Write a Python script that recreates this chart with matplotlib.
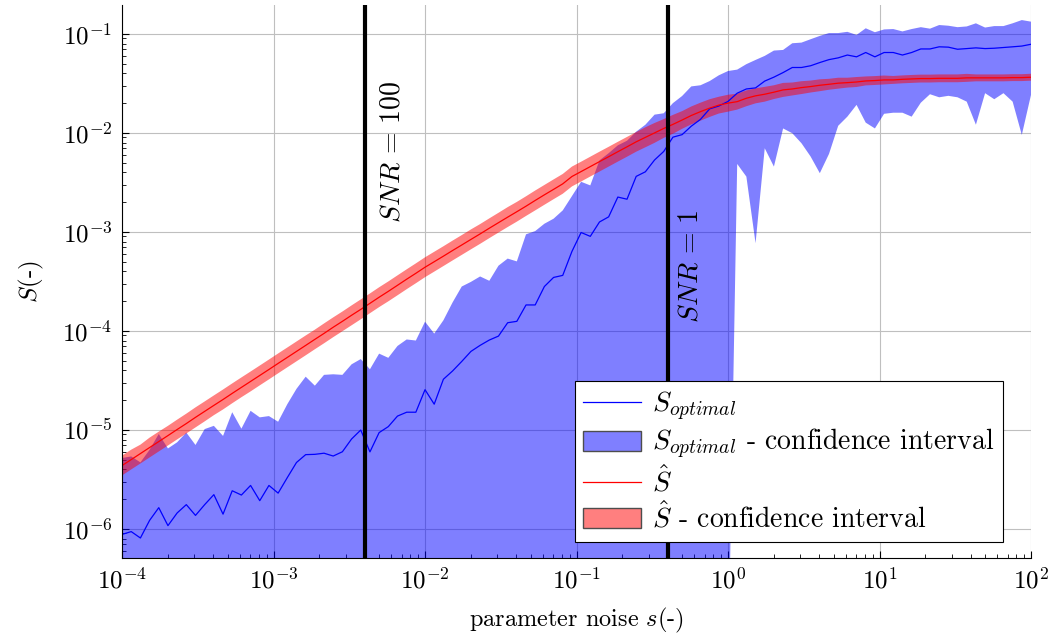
import numpy as np
import matplotlib
matplotlib.use("Agg")
import matplotlib.pyplot as plt
from matplotlib.lines import Line2D
from matplotlib.patches import Patch

plt.rcParams['font.family'] = 'serif'
plt.rcParams['font.serif'] = ['cmr10']
plt.rcParams['mathtext.fontset'] = 'cm'
plt.rcParams['axes.formatter.use_mathtext'] = True
plt.rcParams['axes.unicode_minus'] = False

# parameter noise grid (100 log-spaced samples from 1e-4 to 1e2)
noise = np.logspace(-4, 2, 100)

# S_optimal mean and confidence interval
s_opt = [
    8.8e-7, 9.4e-7, 8.1e-7, 1.22e-6, 1.64e-6, 1.08e-6, 1.45e-6, 1.76e-6, 1.37e-6, 1.76e-6,
    2.22e-6, 1.41e-6, 2.43e-6, 2.20e-6, 2.75e-6, 1.93e-6, 2.75e-6, 2.30e-6, 3.30e-6, 4.69e-6,
    5.63e-6, 5.67e-6, 5.82e-6, 5.45e-6, 6.02e-6, 8.1e-6, 9.98e-6, 6.0e-6, 9.4e-6, 1.08e-5,
    1.38e-5, 1.51e-5, 1.51e-5, 2.55e-5, 1.82e-5, 3.25e-5, 3.94e-5, 4.92e-5, 6.21e-5, 7.15e-5,
    8.09e-5, 8.87e-5, 1.21e-4, 1.25e-4, 1.83e-4, 1.83e-4, 2.81e-4, 3.47e-4, 3.64e-4, 6.35e-4,
    9.87e-4, 9.02e-4, 1.26e-3, 1.42e-3, 2.25e-3, 2.14e-3, 3.64e-3, 4.05e-3, 5.33e-3, 6.50e-3,
    9.06e-3, 9.61e-3, 1.17e-2, 1.37e-2, 1.75e-2, 1.87e-2, 2.08e-2, 2.52e-2, 2.78e-2, 2.85e-2,
    3.34e-2, 3.66e-2, 4.07e-2, 4.58e-2, 4.58e-2, 4.77e-2, 5.14e-2, 5.50e-2, 5.73e-2, 6.12e-2,
    5.87e-2, 6.49e-2, 5.87e-2, 6.49e-2, 6.49e-2, 6.12e-2, 6.49e-2, 7.05e-2, 7.05e-2, 7.41e-2,
    7.35e-2, 7.00e-2, 7.11e-2, 7.23e-2, 7.11e-2, 7.17e-2, 7.29e-2, 7.41e-2, 7.54e-2, 7.86e-2,
]
s_opt_hi = [
    5.2e-6, 5.4e-6, 4.7e-6, 6.3e-6, 9.1e-6, 6.5e-6, 7.5e-6, 9.4e-6, 7.05e-6, 1.02e-5,
    1.10e-5, 8.7e-6, 1.51e-5, 1.03e-5, 1.56e-5, 1.34e-5, 1.38e-5, 1.21e-5, 1.82e-5, 2.6e-5,
    3.45e-5, 2.8e-5, 3.6e-5, 3.65e-5, 3.6e-5, 4.6e-5, 5.2e-5, 4.1e-5, 5.9e-5, 5.35e-5,
    7.05e-5, 8.2e-5, 8.0e-5, 1.24e-4, 9.4e-5, 1.28e-4, 1.94e-4, 2.81e-4, 3.13e-4, 3.55e-4,
    3.21e-4, 4.56e-4, 5.38e-4, 5.04e-4, 9.46e-4, 1.02e-3, 1.21e-3, 1.36e-3, 1.65e-3, 2.30e-3,
    3.21e-3, 2.95e-3, 5.28e-3, 6.24e-3, 7.49e-3, 8.34e-3, 1.03e-2, 1.21e-2, 1.53e-2, 1.58e-2,
    2.00e-2, 2.36e-2, 2.95e-2, 3.03e-2, 3.34e-2, 3.82e-2, 4.22e-2, 4.36e-2, 4.95e-2, 5.46e-2,
    6.0e-2, 6.79e-2, 6.89e-2, 8.05e-2, 8.17e-2, 8.84e-2, 9.55e-2, 0.102, 0.102, 0.105,
    0.0977, 0.114, 0.104, 0.111, 0.112, 0.106, 0.112, 0.117, 0.113, 0.123,
    0.121, 0.117, 0.119, 0.128, 0.116, 0.120, 0.120, 0.128, 0.138, 0.133,
]
s_opt_lo = [
    3e-8, 3e-8, 3e-8, 3e-8, 3e-8, 3e-8, 3e-8, 3e-8, 3e-8, 3e-8,
    3e-8, 3e-8, 3e-8, 3e-8, 3e-8, 3e-8, 3e-8, 3e-8, 3e-8, 3e-8,
    3e-8, 3e-8, 3e-8, 3e-8, 3e-8, 3e-8, 3e-8, 3e-8, 3e-8, 3e-8,
    3e-8, 3e-8, 3e-8, 3e-8, 3e-8, 3e-8, 3e-8, 3e-8, 3e-8, 3e-8,
    3e-8, 3e-8, 3e-8, 3e-8, 3e-8, 3e-8, 3e-8, 3e-8, 3e-8, 3e-8,
    3e-8, 3e-8, 3e-8, 3e-8, 3e-8, 3e-8, 3e-8, 3e-8, 3e-8, 3e-8,
    3e-8, 3e-8, 3e-8, 3e-8, 3e-8, 3e-8, 3e-8, 4.86e-3, 3.62e-3, 7.69e-4,
    7.0e-3, 4.57e-3, 1.11e-2, 9.93e-3, 7.87e-3, 5.77e-3, 3.92e-3, 6.14e-3, 1.18e-2, 1.46e-2,
    1.92e-2, 1.27e-2, 1.11e-2, 1.56e-2, 1.60e-2, 1.60e-2, 1.46e-2, 2.02e-2, 2.46e-2, 2.29e-2,
    2.37e-2, 2.29e-2, 2.07e-2, 1.21e-2, 2.52e-2, 2.19e-2, 2.52e-2, 2.07e-2, 9.55e-3, 2.42e-2,
]

# S_hat mean and confidence interval
s_hat = [
    4.37e-6, 5.02e-6, 5.77e-6, 6.64e-6, 7.63e-6, 8.77e-6, 1.01e-5, 1.16e-5, 1.34e-5, 1.54e-5,
    1.77e-5, 2.03e-5, 2.34e-5, 2.69e-5, 3.09e-5, 3.55e-5, 4.08e-5, 4.70e-5, 5.40e-5, 6.21e-5,
    7.14e-5, 8.22e-5, 9.44e-5, 1.09e-4, 1.25e-4, 1.44e-4, 1.65e-4, 1.90e-4, 2.19e-4, 2.51e-4,
    2.89e-4, 3.33e-4, 3.82e-4, 4.40e-4, 5.00e-4, 5.69e-4, 6.49e-4, 7.38e-4, 8.40e-4, 9.55e-4,
    1.09e-3, 1.24e-3, 1.41e-3, 1.60e-3, 1.82e-3, 2.08e-3, 2.37e-3, 2.69e-3, 3.06e-3, 3.63e-3,
    4.07e-3, 4.57e-3, 5.13e-3, 5.75e-3, 6.46e-3, 7.24e-3, 8.13e-3, 9.02e-3, 1.00e-2, 1.11e-2,
    1.22e-2, 1.35e-2, 1.50e-2, 1.64e-2, 1.78e-2, 1.91e-2, 2.00e-2, 2.07e-2, 2.24e-2, 2.37e-2,
    2.46e-2, 2.58e-2, 2.72e-2, 2.78e-2, 2.87e-2, 2.94e-2, 3.03e-2, 3.10e-2, 3.18e-2, 3.22e-2,
    3.27e-2, 3.35e-2, 3.38e-2, 3.43e-2, 3.43e-2, 3.48e-2, 3.51e-2, 3.54e-2, 3.54e-2, 3.56e-2,
    3.56e-2, 3.56e-2, 3.60e-2, 3.60e-2, 3.60e-2, 3.60e-2, 3.60e-2, 3.62e-2, 3.62e-2, 3.65e-2,
]
s_hat_hi = [
    5.50e-6, 6.32e-6, 7.1e-6, 8.36e-6, 9.61e-6, 1.10e-5, 1.27e-5, 1.46e-5, 1.69e-5, 1.94e-5,
    2.23e-5, 2.56e-5, 2.95e-5, 3.39e-5, 3.89e-5, 4.47e-5, 5.14e-5, 5.92e-5, 6.80e-5, 7.82e-5,
    8.99e-5, 1.03e-4, 1.19e-4, 1.37e-4, 1.57e-4, 1.81e-4, 2.08e-4, 2.39e-4, 2.76e-4, 3.16e-4,
    3.64e-4, 4.19e-4, 4.81e-4, 5.54e-4, 6.30e-4, 7.16e-4, 8.17e-4, 9.29e-4, 1.06e-3, 1.20e-3,
    1.37e-3, 1.56e-3, 1.78e-3, 2.01e-3, 2.29e-3, 2.62e-3, 2.98e-3, 3.39e-3, 3.85e-3, 4.57e-3,
    5.12e-3, 5.75e-3, 6.46e-3, 7.24e-3, 8.13e-3, 9.11e-3, 1.02e-2, 1.14e-2, 1.26e-2, 1.38e-2,
    1.52e-2, 1.66e-2, 1.85e-2, 2.02e-2, 2.19e-2, 2.32e-2, 2.43e-2, 2.49e-2, 2.69e-2, 2.82e-2,
    2.92e-2, 3.03e-2, 3.20e-2, 3.23e-2, 3.33e-2, 3.38e-2, 3.48e-2, 3.52e-2, 3.61e-2, 3.61e-2,
    3.67e-2, 3.72e-2, 3.75e-2, 3.80e-2, 3.76e-2, 3.81e-2, 3.85e-2, 3.88e-2, 3.88e-2, 3.90e-2,
    3.90e-2, 3.90e-2, 3.95e-2, 3.90e-2, 3.90e-2, 3.90e-2, 3.90e-2, 3.92e-2, 3.92e-2, 3.96e-2,
]
s_hat_lo = [
    3.47e-6, 3.99e-6, 4.58e-6, 5.27e-6, 6.06e-6, 6.96e-6, 8.02e-6, 9.21e-6, 1.06e-5, 1.22e-5,
    1.41e-5, 1.61e-5, 1.86e-5, 2.14e-5, 2.45e-5, 2.82e-5, 3.24e-5, 3.73e-5, 4.29e-5, 4.93e-5,
    5.67e-5, 6.53e-5, 7.50e-5, 8.65e-5, 9.93e-5, 1.14e-4, 1.31e-4, 1.51e-4, 1.74e-4, 1.99e-4,
    2.29e-4, 2.64e-4, 3.03e-4, 3.49e-4, 3.97e-4, 4.52e-4, 5.15e-4, 5.86e-4, 6.67e-4, 7.58e-4,
    8.65e-4, 9.85e-4, 1.12e-3, 1.27e-3, 1.45e-3, 1.65e-3, 1.88e-3, 2.14e-3, 2.43e-3, 2.88e-3,
    3.23e-3, 3.63e-3, 4.07e-3, 4.57e-3, 5.13e-3, 5.75e-3, 6.46e-3, 7.16e-3, 7.94e-3, 8.91e-3,
    9.80e-3, 1.10e-2, 1.22e-2, 1.33e-2, 1.45e-2, 1.57e-2, 1.64e-2, 1.72e-2, 1.86e-2, 1.99e-2,
    2.07e-2, 2.20e-2, 2.31e-2, 2.39e-2, 2.47e-2, 2.56e-2, 2.64e-2, 2.73e-2, 2.80e-2, 2.87e-2,
    2.91e-2, 3.02e-2, 3.05e-2, 3.09e-2, 3.13e-2, 3.17e-2, 3.20e-2, 3.23e-2, 3.23e-2, 3.25e-2,
    3.25e-2, 3.25e-2, 3.28e-2, 3.32e-2, 3.32e-2, 3.32e-2, 3.32e-2, 3.34e-2, 3.34e-2, 3.37e-2,
]

snr_noise = [0.004, 0.4]
snr_labels = [r'$SNR\,=\,100$', r'$SNR\,=\,1$']
snr_label_pos = [(6.05e-3, 6.4e-3), (0.56, 4.5e-4)]

x_ticks = [1e-4, 1e-3, 1e-2, 1e-1, 1e0, 1e1, 1e2]
y_ticks = [1e-6, 1e-5, 1e-4, 1e-3, 1e-2, 1e-1]

fig = plt.figure(figsize=(10.53, 6.39), dpi=100)
ax = fig.add_axes([0.1159, 0.1268, 0.8632, 0.8654])

ax.fill_between(noise, s_opt_lo, s_opt_hi, facecolor='blue', alpha=0.5, lw=0)
ax.plot(noise, s_opt, color='blue', lw=0.9)
ax.fill_between(noise, s_hat_lo, s_hat_hi, facecolor='red', alpha=0.5, lw=0)
ax.plot(noise, s_hat, color='red', lw=0.9)

for xv in snr_noise:
    ax.axvline(xv, color='black', lw=3)
for lab, (tx, ty) in zip(snr_labels, snr_label_pos):
    ax.text(tx, ty, lab, rotation=90, ha='center', va='center', fontsize=20)

ax.set_xscale('log')
ax.set_yscale('log')
ax.set_xticks(x_ticks)
ax.set_yticks(y_ticks)
ax.set_xlim(1e-4, 1e2)
ax.set_ylim(5.09e-7, 0.196)

ax.grid(True, which='major', color='0.75', lw=0.8)
ax.set_axisbelow(True)
ax.spines['top'].set_visible(False)
ax.spines['right'].set_visible(False)
ax.tick_params(which='both', direction='in', labelsize=18)
ax.tick_params(which='major', length=5, pad=7)
ax.tick_params(which='minor', length=3)

ax.set_xlabel(r'parameter noise $s$(-)', fontsize=17.5, labelpad=9)
ax.set_ylabel(r'$S$(-)', fontsize=18, labelpad=12)

handles = [
    Line2D([], [], color='blue', lw=0.9),
    Patch(facecolor=(0, 0, 1, 0.5), edgecolor='0.3'),
    Line2D([], [], color='red', lw=0.9),
    Patch(facecolor=(1, 0, 0, 0.5), edgecolor='0.3'),
]
labels = [r'$S_{optimal}$', r'$S_{optimal}$ - confidence interval',
          r'$\hat{S}$', r'$\hat{S}$ - confidence interval']
leg = ax.legend(handles, labels, loc='lower right', bbox_to_anchor=(0.969, 0.029),
                borderaxespad=0, fontsize=20, fancybox=False, edgecolor='black',
                framealpha=1, handlelength=2.1, handletextpad=0.4,
                labelspacing=0.15, borderpad=0.3)
leg.get_frame().set_linewidth(0.8)

fig.savefig('out.png', dpi=100)
